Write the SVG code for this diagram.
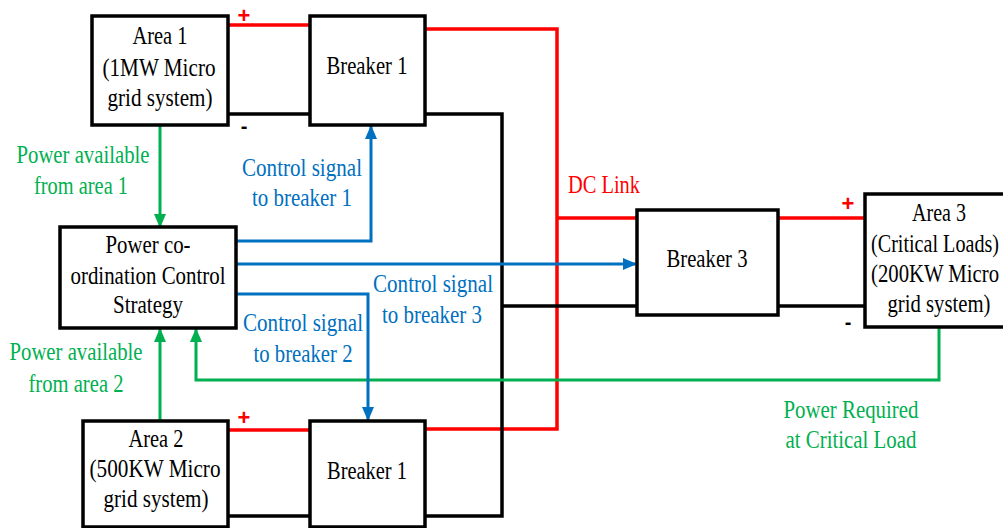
<svg xmlns="http://www.w3.org/2000/svg" width="1003" height="528" viewBox="0 0 1003 528">
<defs>
<style>
.box{fill:#fff;stroke:#000;stroke-width:3.5}
.t{font-family:"Liberation Serif","Times New Roman",serif;font-size:25px;text-anchor:middle;fill:#000}
.g{fill:#00B050}
.b{fill:#0070C0}
.r{fill:#FF0000}
.red{fill:none;stroke:#FF0000;stroke-width:3.5}
.blk{fill:none;stroke:#000;stroke-width:3.5}
.blu{fill:none;stroke:#0070C0;stroke-width:3}
.grn{fill:none;stroke:#00B050;stroke-width:3}
.sign{font-family:"Liberation Sans",Arial,sans-serif;font-weight:bold;text-anchor:middle}
</style>
<marker id="ab" markerUnits="userSpaceOnUse" markerWidth="14" markerHeight="12" refX="13" refY="6" orient="auto"><path d="M0,0 L14,6 L0,12 z" fill="#0070C0"/></marker>
<marker id="ag" markerUnits="userSpaceOnUse" markerWidth="14" markerHeight="12" refX="13" refY="6" orient="auto"><path d="M0,0 L14,6 L0,12 z" fill="#00B050"/></marker>
</defs>
<rect width="1003" height="528" fill="#fff"/>
<g id="connectors">
<path class="red" d="M228,25 H310 M425,29 H557 V429 H425 M557,218 H637 M778,218 H865 M228,430 H310"/>
<path class="blk" d="M228,114 H310 M425,114 H502 V516 H425 M228,516 H310 M502,306 H637 M778,306 H865"/>
<path class="grn" d="M160,126 V227" marker-end="url(#ag)"/>
<path class="grn" d="M160,421 V329" marker-end="url(#ag)"/>
<path class="grn" d="M939,328 V380 H196 V329" marker-end="url(#ag)"/>
<path class="blu" d="M236,241 H371 V126" marker-end="url(#ab)"/>
<path class="blu" d="M236,264 H636" marker-end="url(#ab)"/>
<path class="blu" d="M236,294 H368 V420" marker-end="url(#ab)"/>
<text class="sign r" x="244" y="23" font-size="22">+</text>
<text class="sign" x="244" y="133" font-size="20">-</text>
<text class="sign r" x="244" y="425" font-size="22">+</text>
<text class="sign r" x="848" y="211" font-size="22">+</text>
<text class="sign" x="848" y="329" font-size="20">-</text>
<text class="t r" x="604" y="193" textLength="72" lengthAdjust="spacingAndGlyphs">DC Link</text>
<text class="t g" x="83" y="163" textLength="133" lengthAdjust="spacingAndGlyphs">Power available</text>
<text class="t g" x="81" y="194" textLength="94" lengthAdjust="spacingAndGlyphs">from area 1</text>
<text class="t g" x="76" y="360" textLength="133" lengthAdjust="spacingAndGlyphs">Power available</text>
<text class="t g" x="76" y="392" textLength="95" lengthAdjust="spacingAndGlyphs">from area 2</text>
<text class="t g" x="851" y="418" textLength="135" lengthAdjust="spacingAndGlyphs">Power Required</text>
<text class="t g" x="851" y="448" textLength="131" lengthAdjust="spacingAndGlyphs">at Critical Load</text>
<text class="t b" x="302" y="176" textLength="120" lengthAdjust="spacingAndGlyphs">Control signal</text>
<text class="t b" x="302" y="206" textLength="100" lengthAdjust="spacingAndGlyphs">to breaker 1</text>
<text class="t b" x="433" y="292" textLength="120" lengthAdjust="spacingAndGlyphs">Control signal</text>
<text class="t b" x="432" y="323" textLength="100" lengthAdjust="spacingAndGlyphs">to breaker 3</text>
<text class="t b" x="303" y="331" textLength="120" lengthAdjust="spacingAndGlyphs">Control signal</text>
<text class="t b" x="303" y="362" textLength="99" lengthAdjust="spacingAndGlyphs">to breaker 2</text>
</g>
<g id="area1">
<rect class="box" x="92" y="16" width="136" height="109"/>
<text class="t" x="160" y="44" textLength="55" lengthAdjust="spacingAndGlyphs">Area 1</text>
<text class="t" x="159" y="76" textLength="113" lengthAdjust="spacingAndGlyphs">(1MW Micro</text>
<text class="t" x="160" y="106" textLength="105" lengthAdjust="spacingAndGlyphs">grid system)</text>
</g>
<g id="breaker1top">
<rect class="box" x="310" y="16" width="115" height="109"/>
<text class="t" x="367" y="74" textLength="81" lengthAdjust="spacingAndGlyphs">Breaker 1</text>
</g>
<g id="control">
<rect class="box" x="60" y="227" width="176" height="101"/>
<text class="t" x="148" y="253" textLength="85" lengthAdjust="spacingAndGlyphs">Power co-</text>
<text class="t" x="148" y="284" textLength="155" lengthAdjust="spacingAndGlyphs">ordination Control</text>
<text class="t" x="148" y="313" textLength="70" lengthAdjust="spacingAndGlyphs">Strategy</text>
</g>
<g id="area2">
<rect class="box" x="83" y="421" width="145" height="106"/>
<text class="t" x="156" y="447" textLength="55" lengthAdjust="spacingAndGlyphs">Area 2</text>
<text class="t" x="155" y="477" textLength="131" lengthAdjust="spacingAndGlyphs">(500KW Micro</text>
<text class="t" x="156" y="507" textLength="105" lengthAdjust="spacingAndGlyphs">grid system)</text>
</g>
<g id="breaker1bottom">
<rect class="box" x="310" y="421" width="115" height="106"/>
<text class="t" x="367" y="479" textLength="80" lengthAdjust="spacingAndGlyphs">Breaker 1</text>
</g>
<g id="breaker3">
<rect class="box" x="637" y="210" width="141" height="105"/>
<text class="t" x="707" y="267" textLength="81" lengthAdjust="spacingAndGlyphs">Breaker 3</text>
</g>
<g id="area3">
<rect class="box" x="865" y="194" width="142" height="133"/>
<text class="t" x="939" y="221" textLength="54" lengthAdjust="spacingAndGlyphs">Area 3</text>
<text class="t" x="935" y="252" textLength="128" lengthAdjust="spacingAndGlyphs">(Critical Loads)</text>
<text class="t" x="935" y="282" textLength="128" lengthAdjust="spacingAndGlyphs">(200KW Micro</text>
<text class="t" x="939" y="312" textLength="103" lengthAdjust="spacingAndGlyphs">grid system)</text>
</g>
</svg>
